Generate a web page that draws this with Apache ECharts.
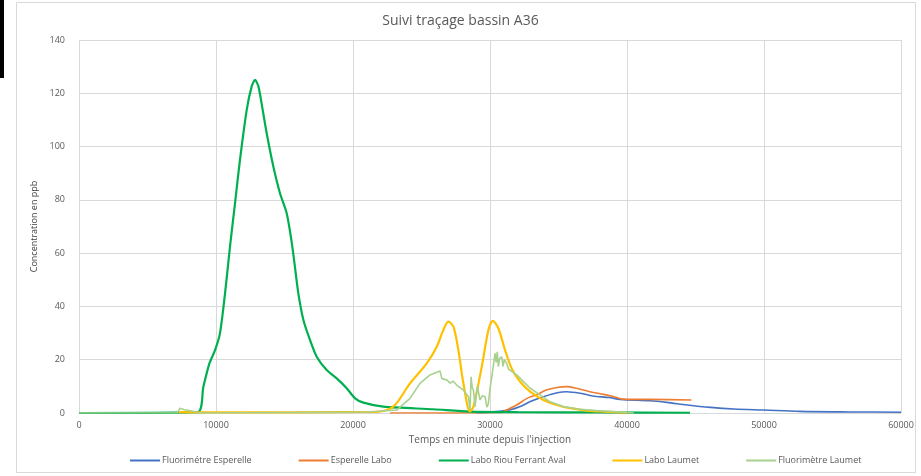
<!DOCTYPE html>
<html>
<head>
<meta charset="utf-8">
<script src="https://cdn.jsdelivr.net/npm/echarts@6/dist/echarts.min.js"></script>
<style>
  html, body { margin: 0; padding: 0; background: #fff; }
  #chart { width: 921px; height: 476px; }
</style>
</head>
<body>
<div id="chart"></div>
<script>
// temps (min) / concentration (ppb)
const seriesNames = ['Fluorimétre Esperelle', 'Esperelle Labo', 'Labo Riou Ferrant Aval', 'Labo Laumet', 'Fluorimètre Laumet'];
const seriesColors = ['#4472C4', '#ED7D31', '#00B050', '#FFC000', '#A9D18E'];

const fluoEsperelle = [
    [29000, 0], [30700, 0.6], [31500, 1.2], [32200, 2.4], [32900, 4.2], [33900, 6.1], [34900, 7.6],
    [35600, 8], [36600, 7.4], [37500, 6.4], [38700, 5.8], [39500, 5.1], [41700, 4.6], [42900, 4],
    [44400, 3], [46100, 2.1], [47800, 1.5], [50000, 1.1], [52600, 0.6], [56300, 0.4], [60000, 0.3]
];
const esperelleLabo = [
    [22700, 0], [30800, 0.2], [31200, 1.1], [31950, 3], [32700, 5.5], [33400, 6.8], [34100, 8.6],
    [34900, 9.6], [35600, 9.9], [36300, 9.3], [37300, 8], [38300, 7], [39000, 6.2], [39700, 5.2],
    [41700, 5.1], [44700, 4.9]
];
const labRiouFerrant = [
    [0, 0], [8650, 0.3], [9080, 9.9], [9520, 18.6], [9930, 23.6], [10290, 29.9], [10660, 44.9],
    [11020, 62.4], [11390, 78.8], [11750, 95], [12240, 113.7], [12600, 122.5], [12850, 125],
    [13100, 122.5], [13400, 114], [13700, 105], [14190, 92.4], [14670, 82.5], [15160, 75],
    [15500, 65], [15700, 57.4], [16010, 44.9], [16380, 34.9], [16860, 27.4], [17350, 21.1],
    [18080, 16.1], [18810, 13], [19540, 9.3], [20150, 5.5], [20760, 3.9], [22210, 2.4],
    [25860, 1.4], [28540, 0.5], [32000, 0.3], [38000, 0.2], [44600, 0.1]
];
const laboLaumet = [
    [7300, 0.3], [10000, 0.2], [21700, 0.4], [22940, 2.4], [24160, 11.1], [25380, 18.6],
    [26110, 24.9], [26590, 31.1], [26960, 34.3], [27330, 32.4], [27690, 23.6], [28060, 11.1],
    [28540, 0.6], [28790, 2.4], [29400, 17.4], [29880, 31.1], [30200, 34.6], [30610, 31.8],
    [31100, 23.6], [31600, 16.5], [32190, 11.8], [32930, 8], [33900, 4.9], [34870, 3],
    [35840, 1.8], [37060, 0.9], [38280, 0.5], [40000, 0.1]
];
const fluoLaumet = [
    [0, 0], [7200, 0.1], [7370, 1.8], [7700, 1.2], [8600, 0.4], [8800, 0], [21000, 0.4],
    [23190, 1.1], [24160, 5.5], [24890, 11.1], [25620, 14.3], [26350, 15.8], [26480, 13],
    [26840, 12.4], [27100, 11.2], [27300, 12], [27570, 10.5], [28060, 8.6], [28420, 6.1],
    [28540, 1.1], [28620, 13.6], [28700, 9.5], [28790, 8.6], [28910, 2.4], [29000, 7],
    [29080, 9.9], [29270, 4.9], [29450, 6.5], [29640, 6.1], [29780, 2.2], [29880, 3.6],
    [30000, 9], [30130, 13.6], [30250, 18], [30370, 22.4], [30450, 19], [30530, 23],
    [30610, 17.4], [30700, 20.5], [30860, 21.1], [30950, 17.5], [31050, 20], [31220, 18.6],
    [31350, 16.5], [31460, 16.1], [31600, 15.5], [31950, 14.3], [32440, 11.8], [32930, 9.3],
    [33650, 6.8], [34380, 4.2], [35350, 2.4], [36570, 1.4], [37790, 0.9], [39000, 0.5], [40500, 0]
];
const seriesData = [fluoEsperelle, esperelleLabo, labRiouFerrant, laboLaumet, fluoLaumet];
const seriesWidths = [1.6, 1.6, 2.2, 2.2, 1.6];
const seriesSmooth = [0.3, 0.3, 0.25, 0.3, false];

var dom = document.getElementById('chart');
var myChart = echarts.init(dom, null, { renderer: 'canvas' });

const textColor = '#595959';

const option = {
    animation: false,
    backgroundColor: '#fff',
    textStyle: { fontFamily: 'Open Sans', color: textColor },
    title: {
        text: 'Suivi traçage bassin A36',
        left: 'center',
        top: 9,
        textStyle: { fontFamily: 'Open Sans', fontSize: 14, fontWeight: 'normal', color: textColor }
    },
    graphic: [
        { type: 'rect', shape: { x: 16.5, y: 2.5, width: 899, height: 470 }, style: { fill: 'none', stroke: '#d9d9d9', lineWidth: 1 }, silent: true },
        { type: 'rect', shape: { x: 0, y: 0, width: 4, height: 78 }, style: { fill: '#000' }, silent: true }
    ],
    legend: {
        bottom: 6,
        left: 125,
        itemGap: 47,
        itemWidth: 30,
        itemHeight: 2,
        icon: 'rect',
        textStyle: { fontFamily: 'Open Sans', fontSize: 9, color: textColor, padding: [0, 0, 0, -3] },
        data: seriesNames
    },
    grid: { left: 79, right: 20, top: 40, bottom: 63 },
    xAxis: {
        type: 'value',
        min: 0,
        max: 60000,
        interval: 10000,
        name: 'Temps en minute depuis l\'injection',
        nameLocation: 'middle',
        nameGap: 22,
        nameTextStyle: { fontSize: 10, color: textColor },
        axisLine: { lineStyle: { color: '#d9d9d9' } },
        axisTick: { show: false },
        axisLabel: { fontSize: 9, color: textColor, margin: 8, formatter: v => String(v) },
        splitLine: { show: true, lineStyle: { color: '#d9d9d9' } }
    },
    yAxis: {
        type: 'value',
        min: 0,
        max: 140,
        interval: 20,
        name: 'Concentration en ppb',
        nameLocation: 'middle',
        nameGap: 31,
        nameTextStyle: { fontSize: 9, color: '#404040' },
        axisLine: { show: false },
        axisTick: { show: false },
        axisLabel: { fontSize: 9, color: textColor, margin: 14 },
        splitLine: { show: true, lineStyle: { color: '#d9d9d9' } }
    },
    series: seriesNames.map((name, i) => ({
        name: name,
        type: 'line',
        data: seriesData[i],
        showSymbol: false,
        symbol: 'none',
        smooth: seriesSmooth[i],
        lineStyle: { width: seriesWidths[i], color: seriesColors[i] },
        itemStyle: { color: seriesColors[i] }
    }))
};

myChart.setOption(option);
window.addEventListener('resize', myChart.resize);
</script>
</body>
</html>
